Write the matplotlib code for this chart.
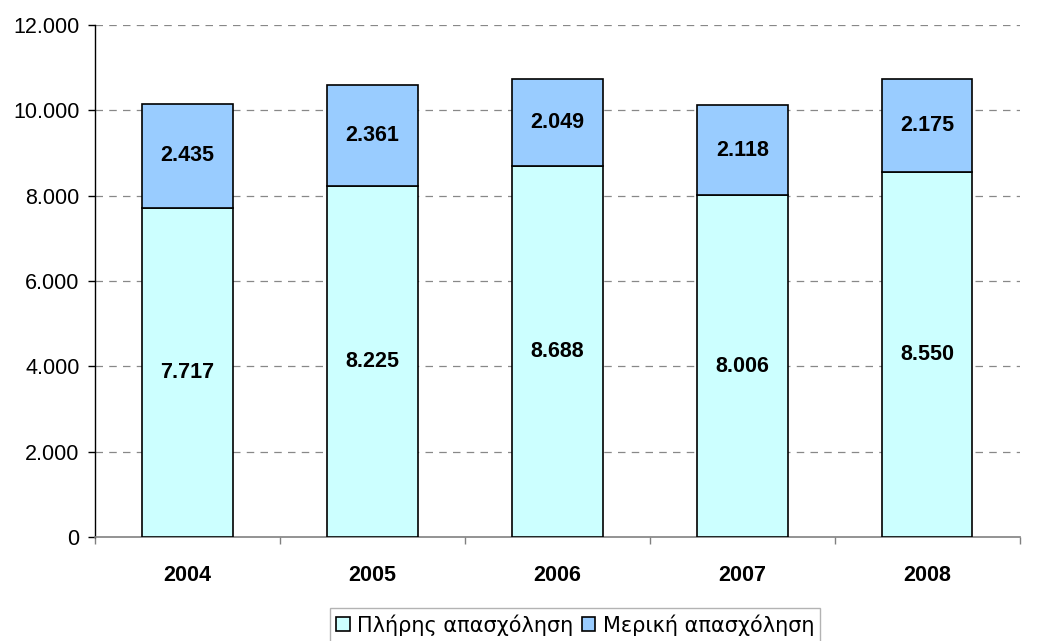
import matplotlib
matplotlib.use('Agg')
import matplotlib.pyplot as plt
from matplotlib.ticker import FuncFormatter, FixedLocator
import numpy as np

plt.rcParams['font.family'] = ['Liberation Sans', 'DejaVu Sans']

years = ['2004', '2005', '2006', '2007', '2008']
full_time = [7717, 8225, 8688, 8006, 8550]
part_time = [2435, 2361, 2049, 2118, 2175]
series_names = ['Πλήρης απασχόληση', 'Μερική απασχόληση']

def fmt(v):
    return '{:,.0f}'.format(v).replace(',', '.')

fig = plt.figure(figsize=(10.46, 6.41), dpi=100)
ax = fig.add_axes([0.0908, 0.1622, 0.884, 0.7988])

x = np.arange(len(years))
w = 0.49
b1 = ax.bar(x, full_time, w, color='#CCFFFF', edgecolor='black', linewidth=1.2,
            label=series_names[0], zorder=3)
b2 = ax.bar(x, part_time, w, bottom=full_time, color='#99CCFF', edgecolor='black',
            linewidth=1.2, label=series_names[1], zorder=3)

for i in range(len(years)):
    ax.text(x[i], full_time[i] / 2, fmt(full_time[i]), ha='center', va='center',
            fontsize=15.5, fontweight='bold', zorder=4)
    ax.text(x[i], full_time[i] + part_time[i] / 2, fmt(part_time[i]), ha='center',
            va='center', fontsize=15.5, fontweight='bold', zorder=4)

ax.set_xlim(-0.5, len(years) - 0.5)
ax.set_ylim(0, 12000)
ax.set_yticks(np.arange(0, 12001, 2000))
ax.yaxis.set_major_formatter(FuncFormatter(lambda v, p: fmt(v)))
ax.tick_params(axis='y', labelsize=15.5, length=5, width=1, direction='out', pad=6)

ax.set_xticks(x)
ax.set_xticklabels(years, fontsize=15.5, fontweight='bold')
ax.tick_params(axis='x', which='major', length=0, pad=20)
ax.xaxis.set_minor_locator(FixedLocator(np.arange(-0.5, len(years), 1.0)))
ax.tick_params(axis='x', which='minor', length=5, width=1, color='#808080')

for g in np.arange(2000, 12001, 2000):
    ax.axhline(g, color='#888888', linestyle=(0, (6, 5)), linewidth=0.9, zorder=1)

ax.spines['top'].set_visible(False)
ax.spines['right'].set_visible(False)
ax.spines['left'].set_linewidth(1)
ax.spines['bottom'].set_color('#808080')
ax.spines['bottom'].set_linewidth(1.2)

leg = fig.legend(handles=[b1, b2], labels=series_names, loc='upper center',
                 bbox_to_anchor=(0.550, 0.0515), ncol=2,
                 prop={'family': 'DejaVu Sans', 'size': 15},
                 frameon=True, fancybox=False, edgecolor='#A0A0A0',
                 handlelength=0.65, handleheight=0.65, handletextpad=0.35,
                 columnspacing=0.4, borderpad=0.3, borderaxespad=0)
leg.get_frame().set_linewidth(1)

fig.savefig('out.png', dpi=100)
